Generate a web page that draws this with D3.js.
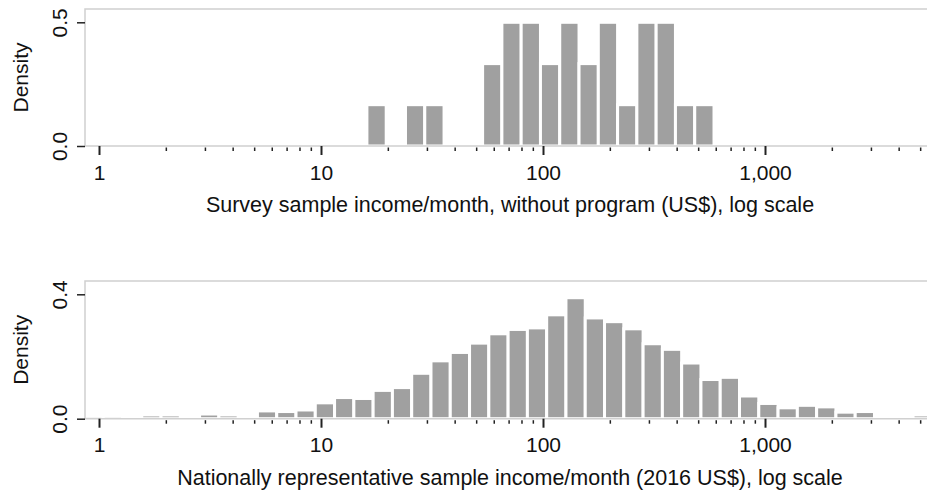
<!DOCTYPE html>
<html>
<head>
<meta charset="utf-8">
<script src="https://cdn.jsdelivr.net/npm/d3@7"></script>
<style>
  html, body { margin: 0; padding: 0; background: #fff; }
  svg { display: block; font-family: "Liberation Sans", Arial, sans-serif; }
  .frame { stroke: #d0d0d0; stroke-width: 1.5; fill: none; }
  .bar { fill: #a0a0a0; stroke: #fff; stroke-width: 3; }
  .tick line { stroke: #222; }
  .domain { display: none; }
  text { fill: #111; font-size: 21px; }
  .xtitle { font-size: 21.5px; }
</style>
</head>
<body>
<svg id="chart" width="927" height="493"></svg>
<script>
// histogram bins are 0.2 wide in ln(income); first bin lower edge in US$
const binWidthLn = 0.2;

const surveyStart = 16.1;
const surveyDensity = [0.167, 0, 0.167, 0.167, 0, 0, 0.333, 0.5, 0.5, 0.333,
  0.5, 0.333, 0.5, 0.167, 0.5, 0.5, 0.167, 0.167];

const nationalStart = 0.855;
const nationalDensity = [0.010, 0.010, 0, 0.012, 0.012, 0, 0.015, 0.012, 0, 0.025,
  0.023, 0.028, 0.051, 0.068, 0.065, 0.091, 0.100, 0.146, 0.186, 0.213,
  0.243, 0.273, 0.287, 0.292, 0.334, 0.389, 0.324, 0.312, 0.289, 0.241,
  0.223, 0.179, 0.126, 0.133, 0.073, 0.049, 0.035, 0.043, 0.038, 0.021,
  0.023, 0, 0, 0.012];

const majorTicks = [1, 10, 100, 1000];
const majorLabels = ['1', '10', '100', '1,000'];
const minorTicks = [2, 3, 4, 5, 6, 7, 8, 9, 20, 30, 40, 50, 60, 70, 80, 90,
  200, 300, 400, 500, 600, 700, 800, 900, 2000, 3000, 4000, 5000];

const surveyTitle = 'Survey sample income/month, without program (US$), log scale';
const nationalTitle = 'Nationally representative sample income/month (2016 US$), log scale';

const svg = d3.select('#chart');

const x = d3.scaleLog().domain([1, 1000]).range([99, 765]);
const plotLeft = 85;
const plotRight = 927;

const toBins = (start, dens) => dens.map((d, i) => ({
  x0: start * Math.exp(binWidthLn * i),
  x1: start * Math.exp(binWidthLn * (i + 1)),
  density: d
}));

const drawPanel = (opts) => {
  let y = d3.scaleLinear().domain([0, opts.yTickTop]).range([opts.base, opts.yTickPos]);
  let g = svg.append('g');

  let bins = toBins(opts.start, opts.density).filter((b) => b.density > 0);

  g.selectAll('rect.bar')
    .data(bins)
    .join('rect')
    .classed('bar', true)
    .attr('x', (d) => x(d.x0))
    .attr('width', (d) => x(d.x1) - x(d.x0))
    .attr('y', (d) => y(d.density))
    .attr('height', (d) => opts.base - y(d.density));

  // plot region frame (no right side)
  g.append('path')
    .classed('frame', true)
    .attr('d', `M${plotRight},${opts.frameTop}H${plotLeft}V${opts.base}H${plotRight}`);

  // y axis
  let yAxis = g.append('g')
    .attr('transform', `translate(${plotLeft},0)`)
    .call(d3.axisLeft(y).tickValues([0, opts.yTickTop]).tickSize(8).tickFormat(d3.format('.1f')));
  yAxis.selectAll('.tick line').attr('stroke-width', 1.5);
  yAxis.selectAll('.tick text')
    .attr('transform', 'rotate(-90)')
    .attr('x', 0)
    .attr('y', -18)
    .attr('dy', 0)
    .attr('text-anchor', 'middle');

  g.append('text')
    .attr('transform', `translate(27.5,${(opts.frameTop + opts.base) / 2}) rotate(-90)`)
    .attr('text-anchor', 'middle')
    .text('Density');

  // x axis, major + minor ticks
  let xMajor = g.append('g')
    .attr('transform', `translate(0,${opts.base})`)
    .call(d3.axisBottom(x).tickValues(majorTicks).tickSize(9)
      .tickFormat((d, i) => majorLabels[i]));
  xMajor.selectAll('.tick line').attr('stroke-width', 2);
  xMajor.selectAll('.tick text').attr('y', 33.5).attr('dy', 0);

  let xMinor = g.append('g')
    .attr('transform', `translate(0,${opts.base + 1.5})`)
    .call(d3.axisBottom(x).tickValues(minorTicks).tickSize(3.5).tickFormat(''));
  xMinor.selectAll('.tick line').attr('stroke-width', 1.5);

  g.append('text')
    .classed('xtitle', true)
    .attr('x', 510)
    .attr('y', opts.base + 66)
    .attr('text-anchor', 'middle')
    .text(opts.title);
};

drawPanel({
  start: surveyStart,
  density: surveyDensity,
  base: 146,
  frameTop: 9,
  yTickTop: 0.5,
  yTickPos: 22.3,
  title: surveyTitle
});

drawPanel({
  start: nationalStart,
  density: nationalDensity,
  base: 418.7,
  frameTop: 281,
  yTickTop: 0.4,
  yTickPos: 294.3,
  title: nationalTitle
});
</script>
</body>
</html>
